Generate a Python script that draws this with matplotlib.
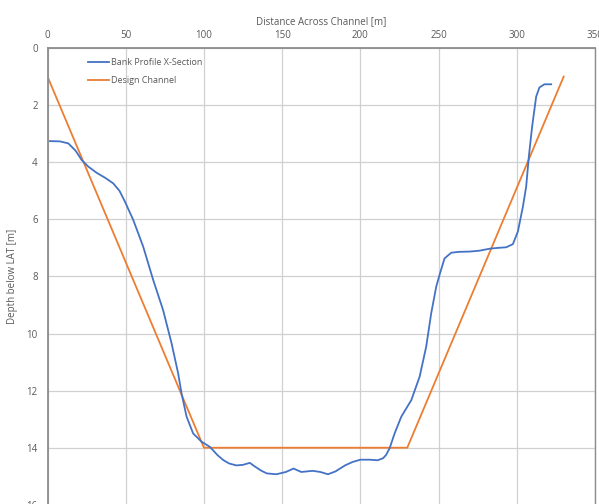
import matplotlib
matplotlib.use("Agg")
import matplotlib.pyplot as plt

# bank profile cross-section (distance [m], depth below LAT [m])
bank_x = [1.6, 8, 13.3, 18, 21.8, 26, 31.4, 37, 42, 46, 49.5, 54.8, 61.2, 67.6, 73.9, 79.3,
          83.5, 85.7, 88.9, 93.1, 98.5, 103.8, 108.5, 112.3, 116, 120.7, 125, 129.3, 132.9,
          136.5, 140.2, 146.3, 152.4, 157.3, 162.2, 169.5, 174.4, 179.3, 184.1, 190.2, 195,
          200, 206.1, 211, 214.5, 216.5, 218.7, 221.9, 226.2, 232.6, 237.9, 242.1, 245.3,
          248.5, 250.6, 253.8, 258.1, 263, 269.8, 276, 282.6, 288, 293.2, 297.5, 300.7,
          303.9, 306, 307.7, 309.8, 312.4, 314.5, 317.7, 322]
bank_y = [3.26, 3.27, 3.34, 3.6, 3.92, 4.15, 4.37, 4.55, 4.74, 5.0, 5.38, 6.02, 6.96, 8.13,
          9.18, 10.34, 11.39, 12.1, 12.91, 13.5, 13.79, 13.97, 14.25, 14.43, 14.55, 14.62,
          14.6, 14.53, 14.67, 14.8, 14.9, 14.93, 14.85, 14.73, 14.85, 14.81, 14.85, 14.93,
          14.83, 14.62, 14.5, 14.42, 14.42, 14.44, 14.37, 14.25, 14.02, 13.5, 12.91, 12.33,
          11.51, 10.46, 9.29, 8.36, 7.95, 7.37, 7.17, 7.14, 7.13, 7.1, 7.03, 7.0, 6.98, 6.87,
          6.43, 5.56, 4.86, 3.81, 2.76, 1.70, 1.38, 1.27, 1.27]

# design channel outline
design_x = [0, 100, 230, 330]
design_y = [1, 14, 14, 1]

BLUE = "#4472C4"; ORANGE = "#ED7D31"; TXT = "#595959"; GRID = "#d0d0d0"; SPINE = "#8c8c8c"

plt.rcParams["font.family"] = ["Open Sans", "DejaVu Sans"]

fig = plt.figure(figsize=(5.99, 5.04), dpi=100)
ax = fig.add_axes([0.0793, -0.0016, 0.914, 0.9063])

ax.plot(bank_x, bank_y, color=BLUE, lw=1.3, label="Bank Profile X-Section", zorder=3,
        solid_joinstyle="round")
ax.plot(design_x, design_y, color=ORANGE, lw=1.3, label="Design Channel", zorder=2)

ax.set_xlim(0, 350)
ax.set_ylim(16, 0)
ax.set_xticks(range(0, 351, 50))
ax.set_yticks(range(0, 17, 2))
ax.xaxis.tick_top()
ax.xaxis.set_label_position("top")
ax.set_xlabel("Distance Across Channel [m]", fontsize=7, color=TXT, labelpad=4)
ax.set_ylabel("Depth below LAT [m]", fontsize=7, color=TXT)
ax.yaxis.set_label_coords(-0.054, 0.5)
ax.tick_params(colors=TXT, labelsize=7, length=0)
ax.tick_params(axis="x", pad=5)
ax.tick_params(axis="y", pad=7)
ax.grid(True, color=GRID, lw=0.9)
ax.set_axisbelow(True)
for s in ("left", "top"):
    ax.spines[s].set_color(SPINE); ax.spines[s].set_linewidth(1.3)
ax.spines["right"].set_color(SPINE); ax.spines["right"].set_linewidth(1.0)
ax.spines["bottom"].set_visible(False)

ax.legend(loc="upper left", bbox_to_anchor=(0.06, 0.995), frameon=False, fontsize=6.5,
          handlelength=2.3, handletextpad=0.2, labelspacing=1.0, labelcolor=TXT)

fig.savefig("out.png", dpi=100)
